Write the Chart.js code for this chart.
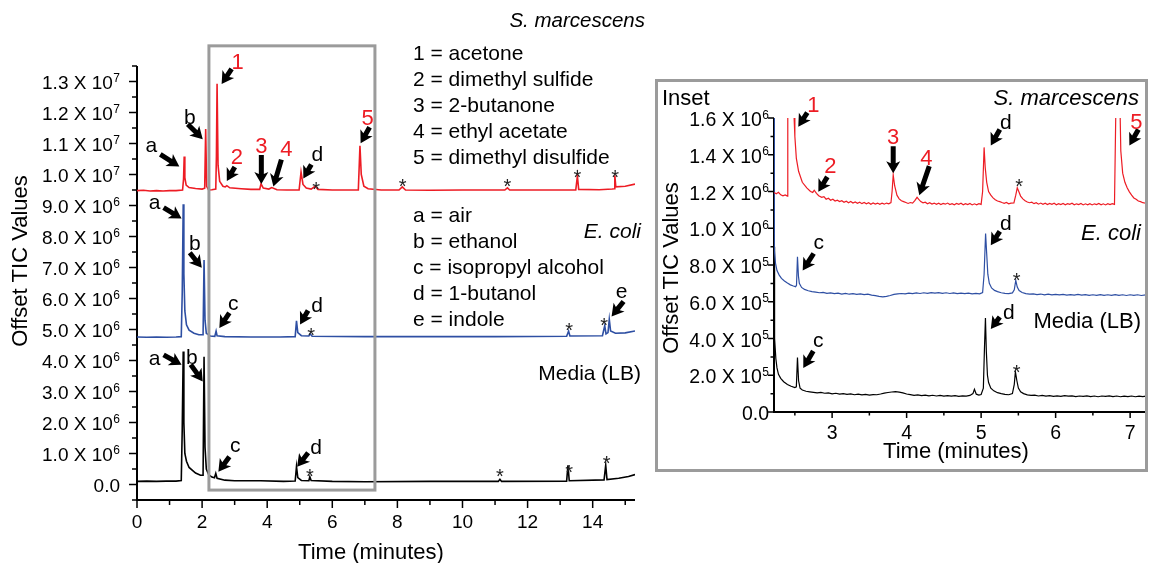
<!DOCTYPE html>
<html>
<head>
<meta charset="utf-8">
<script src="https://cdn.jsdelivr.net/npm/chart.js@4.4.0/dist/chart.umd.min.js"></script>
<style>
body { margin:0; background:#fff; width:1149px; height:563px; overflow:hidden; position:relative; }
#wrapMain { position:absolute; left:0; top:0; width:650px; height:563px; }
#wrapInset { position:absolute; left:650px; top:0; width:499px; height:563px; }
</style>
</head>
<body>
<div id="wrapMain"><canvas id="mainChart"></canvas></div>
<div id="wrapInset"><canvas id="insetChart"></canvas></div>
<script>
// ---- data (time in minutes, TIC in millions) ----
var serratiaMain = [[0,9.48],[0.2,9.49],[0.4,9.47],[0.6,9.48],[0.8,9.47],[1.0,9.48],[1.2,9.48],[1.4,9.5],[1.43,9.85],[1.45,10.58],[1.47,9.9],[1.51,9.66],[1.6,9.58],[1.8,9.55],[2.0,9.53],[2.08,9.56],[2.11,11.47],[2.14,9.62],[2.2,9.5],[2.3,9.51],[2.42,9.53],[2.44,10.6],[2.46,12.93],[2.49,10.3],[2.54,9.78],[2.64,9.62],[2.71,9.6],[2.76,9.64],[2.85,9.57],[3.2,9.54],[3.5,9.52],[3.77,9.52],[3.81,9.7],[3.88,9.56],[4.05,9.53],[4.14,9.58],[4.3,9.51],[4.6,9.5],[4.98,9.5],[5.04,10.08],[5.1,9.68],[5.2,9.56],[5.35,9.53],[5.47,9.62],[5.56,9.52],[6.0,9.5],[6.5,9.5],[6.8,9.5],[6.85,10.93],[6.89,10.0],[6.97,9.62],[7.1,9.54],[7.5,9.5],[8.05,9.5],[8.15,9.6],[8.25,9.5],[9,9.49],[10,9.5],[11.3,9.5],[11.38,9.57],[11.45,9.5],[12.5,9.5],[13.48,9.5],[13.53,9.95],[13.57,9.52],[14.2,9.51],[14.6,9.53],[14.66,9.54],[14.68,9.97],[14.71,9.6],[15.0,9.62],[15.3,9.69]];
var ecoliMain = [[0,4.76],[0.3,4.75],[0.6,4.76],[0.9,4.75],[1.2,4.76],[1.36,4.77],[1.39,6.2],[1.42,9.04],[1.44,6.8],[1.47,5.6],[1.52,5.15],[1.6,4.98],[1.75,4.88],[1.9,4.83],[2.03,4.83],[2.06,7.24],[2.09,5.3],[2.13,4.88],[2.25,4.79],[2.39,4.78],[2.43,4.95],[2.46,4.8],[2.7,4.77],[3.5,4.76],[4.4,4.76],[4.86,4.77],[4.9,5.28],[4.94,4.9],[5.05,4.8],[5.28,4.79],[5.32,4.86],[5.38,4.78],[7,4.77],[9,4.77],[11,4.77],[13.2,4.78],[13.26,4.95],[13.3,4.79],[14.3,4.8],[14.37,5.12],[14.41,4.86],[14.47,4.9],[14.51,5.33],[14.55,4.95],[14.7,4.88],[15.0,4.89],[15.3,4.95]];
var mediaMain = [[0,0.1],[0.3,0.11],[0.6,0.1],[0.9,0.11],[1.2,0.11],[1.36,0.13],[1.39,1.8],[1.42,4.29],[1.44,2.0],[1.47,1.0],[1.52,0.75],[1.6,0.55],[1.8,0.37],[1.95,0.3],[2.03,0.3],[2.06,4.12],[2.09,1.2],[2.13,0.5],[2.2,0.32],[2.3,0.24],[2.38,0.22],[2.42,0.36],[2.46,0.2],[2.7,0.14],[3.0,0.12],[3.8,0.12],[4.5,0.1],[4.86,0.11],[4.9,0.58],[4.94,0.22],[5.05,0.13],[5.28,0.12],[5.31,0.25],[5.35,0.13],[6,0.1],[7,0.09],[9,0.1],[11.1,0.1],[11.15,0.17],[11.2,0.1],[13.2,0.11],[13.24,0.62],[13.28,0.12],[14.35,0.15],[14.4,0.62],[14.44,0.16],[14.8,0.2],[15.1,0.26],[15.3,0.32]];

var serratiaInset = [[2.22,1.195],[2.25,1.188],[2.28,1.196],[2.31,1.182],[2.34,1.176],[2.37,1.181],[2.4,1.175],[2.405,2.2],[2.445,9.0],[2.485,2.2],[2.49,1.6],[2.5,1.5],[2.52,1.38],[2.55,1.31],[2.6,1.25],[2.66,1.22],[2.71,1.2],[2.74,1.195],[2.76,1.207],[2.79,1.19],[2.82,1.177],[2.86,1.168],[2.89,1.172],[2.92,1.158],[2.95,1.163],[2.98,1.152],[3.01,1.158],[3.04,1.148],[3.07,1.153],[3.1,1.145],[3.13,1.15],[3.16,1.141],[3.19,1.147],[3.22,1.139],[3.25,1.146],[3.28,1.137],[3.31,1.143],[3.34,1.136],[3.37,1.142],[3.4,1.134],[3.43,1.14],[3.46,1.133],[3.49,1.139],[3.52,1.131],[3.55,1.138],[3.58,1.132],[3.61,1.137],[3.64,1.13],[3.67,1.136],[3.7,1.131],[3.73,1.137],[3.76,1.133],[3.79,1.14],[3.805,1.2],[3.82,1.29],[3.84,1.23],[3.87,1.18],[3.9,1.16],[3.93,1.15],[3.96,1.145],[3.99,1.14],[4.02,1.135],[4.05,1.14],[4.08,1.137],[4.11,1.15],[4.14,1.168],[4.16,1.158],[4.19,1.145],[4.22,1.138],[4.25,1.142],[4.28,1.133],[4.31,1.139],[4.34,1.132],[4.37,1.137],[4.4,1.13],[4.43,1.136],[4.46,1.129],[4.49,1.135],[4.52,1.131],[4.55,1.137],[4.58,1.129],[4.61,1.134],[4.64,1.128],[4.67,1.135],[4.7,1.13],[4.73,1.136],[4.76,1.128],[4.79,1.134],[4.82,1.129],[4.85,1.135],[4.88,1.127],[4.91,1.133],[4.94,1.128],[4.97,1.134],[5.0,1.13],[5.02,1.2],[5.04,1.44],[5.055,1.33],[5.075,1.25],[5.1,1.2],[5.13,1.18],[5.16,1.165],[5.19,1.155],[5.22,1.148],[5.25,1.145],[5.28,1.14],[5.31,1.136],[5.34,1.14],[5.37,1.133],[5.4,1.137],[5.44,1.138],[5.465,1.18],[5.485,1.22],[5.5,1.205],[5.53,1.175],[5.56,1.16],[5.59,1.15],[5.62,1.143],[5.65,1.139],[5.68,1.142],[5.71,1.134],[5.74,1.139],[5.77,1.131],[5.8,1.137],[5.83,1.13],[5.86,1.136],[5.89,1.129],[5.92,1.135],[5.95,1.13],[5.98,1.136],[6.01,1.128],[6.04,1.134],[6.07,1.129],[6.1,1.135],[6.13,1.128],[6.16,1.134],[6.19,1.13],[6.22,1.136],[6.25,1.128],[6.28,1.133],[6.31,1.129],[6.34,1.135],[6.37,1.127],[6.4,1.133],[6.43,1.128],[6.46,1.134],[6.49,1.127],[6.52,1.133],[6.55,1.129],[6.58,1.135],[6.61,1.128],[6.64,1.133],[6.67,1.127],[6.7,1.134],[6.73,1.129],[6.76,1.134],[6.79,1.13],[6.81,1.7],[6.838,5.0],[6.862,1.7],[6.875,1.42],[6.9,1.3],[6.93,1.25],[6.96,1.22],[6.99,1.198],[7.02,1.18],[7.05,1.165],[7.08,1.158],[7.11,1.148],[7.14,1.145],[7.17,1.139],[7.21,1.136]];
var ecoliInset = [[2.22,1.7],[2.222,1.05],[2.228,0.88],[2.24,0.81],[2.26,0.77],[2.29,0.745],[2.32,0.727],[2.36,0.713],[2.4,0.702],[2.44,0.692],[2.48,0.686],[2.51,0.682],[2.522,0.69],[2.535,0.845],[2.548,0.74],[2.56,0.7],[2.59,0.678],[2.63,0.667],[2.68,0.66],[2.73,0.655],[2.78,0.652],[2.83,0.649],[2.88,0.651],[2.93,0.646],[2.98,0.648],[3.03,0.644],[3.08,0.647],[3.13,0.642],[3.18,0.645],[3.23,0.641],[3.28,0.644],[3.33,0.64],[3.38,0.643],[3.43,0.639],[3.48,0.641],[3.53,0.636],[3.58,0.633],[3.63,0.629],[3.68,0.627],[3.73,0.629],[3.78,0.634],[3.83,0.64],[3.88,0.643],[3.93,0.645],[3.98,0.643],[4.03,0.647],[4.08,0.644],[4.13,0.648],[4.18,0.645],[4.23,0.649],[4.28,0.646],[4.33,0.65],[4.38,0.647],[4.43,0.65],[4.48,0.646],[4.53,0.649],[4.58,0.645],[4.63,0.648],[4.68,0.644],[4.73,0.647],[4.78,0.644],[4.83,0.647],[4.88,0.643],[4.93,0.646],[4.98,0.643],[5.02,0.65],[5.04,0.75],[5.06,0.971],[5.075,0.86],[5.09,0.75],[5.11,0.7],[5.14,0.675],[5.18,0.662],[5.22,0.655],[5.27,0.649],[5.32,0.646],[5.37,0.644],[5.42,0.648],[5.445,0.665],[5.465,0.716],[5.485,0.68],[5.51,0.661],[5.55,0.65],[5.6,0.644],[5.65,0.641],[5.7,0.643],[5.75,0.639],[5.8,0.642],[5.85,0.638],[5.9,0.641],[5.95,0.637],[6.0,0.64],[6.05,0.637],[6.1,0.64],[6.15,0.636],[6.2,0.639],[6.25,0.636],[6.3,0.64],[6.35,0.636],[6.4,0.639],[6.45,0.635],[6.5,0.638],[6.55,0.635],[6.6,0.639],[6.65,0.635],[6.7,0.638],[6.75,0.635],[6.8,0.639],[6.85,0.635],[6.9,0.638],[6.95,0.634],[7.0,0.638],[7.05,0.635],[7.1,0.638],[7.15,0.634],[7.21,0.637]];
var mediaInset = [[2.22,0.9],[2.224,0.6],[2.232,0.4],[2.245,0.29],[2.26,0.24],[2.28,0.205],[2.31,0.183],[2.35,0.165],[2.4,0.15],[2.45,0.14],[2.5,0.133],[2.52,0.137],[2.535,0.297],[2.55,0.17],[2.57,0.13],[2.6,0.12],[2.65,0.113],[2.7,0.11],[2.75,0.107],[2.8,0.104],[2.85,0.107],[2.9,0.102],[2.95,0.104],[3.0,0.099],[3.05,0.102],[3.1,0.097],[3.15,0.1],[3.2,0.096],[3.25,0.099],[3.3,0.094],[3.35,0.097],[3.4,0.093],[3.45,0.096],[3.5,0.092],[3.55,0.095],[3.6,0.094],[3.65,0.098],[3.7,0.103],[3.75,0.106],[3.8,0.109],[3.85,0.111],[3.9,0.108],[3.95,0.104],[4.0,0.098],[4.05,0.095],[4.1,0.091],[4.15,0.093],[4.2,0.089],[4.25,0.092],[4.3,0.088],[4.35,0.091],[4.4,0.087],[4.45,0.09],[4.5,0.086],[4.55,0.089],[4.6,0.086],[4.65,0.089],[4.7,0.085],[4.75,0.088],[4.8,0.086],[4.85,0.09],[4.89,0.1],[4.91,0.124],[4.935,0.097],[4.97,0.092],[5.0,0.095],[5.03,0.13],[5.045,0.35],[5.058,0.512],[5.07,0.33],[5.085,0.2],[5.1,0.16],[5.13,0.13],[5.17,0.115],[5.22,0.105],[5.27,0.1],[5.32,0.096],[5.37,0.094],[5.42,0.1],[5.445,0.15],[5.46,0.22],[5.48,0.17],[5.5,0.13],[5.53,0.11],[5.57,0.1],[5.62,0.093],[5.67,0.09],[5.72,0.092],[5.77,0.087],[5.82,0.09],[5.87,0.086],[5.92,0.089],[5.97,0.085],[6.02,0.088],[6.07,0.085],[6.12,0.089],[6.17,0.086],[6.22,0.088],[6.27,0.084],[6.32,0.087],[6.37,0.085],[6.42,0.088],[6.47,0.084],[6.52,0.087],[6.57,0.083],[6.62,0.087],[6.67,0.085],[6.72,0.088],[6.77,0.084],[6.82,0.087],[6.87,0.083],[6.92,0.086],[6.97,0.084],[7.02,0.087],[7.07,0.083],[7.12,0.086],[7.17,0.084],[7.21,0.086]];

// ticks
var mainXTicks = [0, 2, 4, 6, 8, 10, 12, 14];
var mainXMinor = [1, 3, 5, 7, 9, 11, 13, 15];
var mainYTicks = [0, 1, 2, 3, 4, 5, 6, 7, 8, 9, 10, 11, 12, 13];
var mainYLabels = ['0.0', '1.0 X 10^6', '2.0 X 10^6', '3.0 X 10^6', '4.0 X 10^6', '5.0 X 10^6', '6.0 X 10^6', '7.0 X 10^6', '8.0 X 10^6', '9.0 X 10^6', '1.0 X 10^7', '1.1 X 10^7', '1.2 X 10^7', '1.3 X 10^7'];
var mainYMinor = [-0.5, 0.5, 1.5, 2.5, 3.5, 4.5, 5.5, 6.5, 7.5, 8.5, 9.5, 10.5, 11.5, 12.5, 13.5];
var insetXTicks = [3, 4, 5, 6, 7];
var insetXMinor = [2.5, 3.5, 4.5, 5.5, 6.5];
var insetYTicks = [0, 0.2, 0.4, 0.6, 0.8, 1.0, 1.2, 1.4, 1.6];
var insetYLabels = ['0.0', '2.0 X 10^5', '4.0 X 10^5', '6.0 X 10^5', '8.0 X 10^5', '1.0 X 10^6', '1.2 X 10^6', '1.4 X 10^6', '1.6 X 10^6'];
var insetYMinor = [0.1, 0.3, 0.5, 0.7, 0.9, 1.1, 1.3, 1.5];

var compoundKey = ['1 = acetone', '2 = dimethyl sulfide', '3 = 2-butanone', '4 = ethyl acetate', '5 = dimethyl disulfide'];
var commonKey = ['a = air', 'b = ethanol', 'c = isopropyl alcohol', 'd = 1-butanol', 'e = indole'];

var RED = '#ed1c24', BLUE = '#2e4fa3', BLACK = '#000000', GRAY = '#9b9b9b';
var FONT = "'Liberation Sans', Arial, Helvetica, sans-serif";

// peak labels: tip at data (x,y); tail and label offsets in px
var mainNotes = [
  {x:1.30, y:10.26, tx:-19, ty:-12, lx:-28, ly:-20, t:'a', c:BLACK},
  {x:2.02, y:11.14, tx:-15, ty:-15, lx:-13, ly:-23, t:'b', c:BLACK},
  {x:2.60, y:12.92, tx:10, ty:-15, lx:16, ly:-23, t:'1', c:RED},
  {x:2.76, y:9.79, tx:8, ty:-14, lx:10, ly:-25, t:'2', c:RED},
  {x:3.82, y:9.69, tx:0, ty:-29, lx:0, ly:-39, t:'3', c:RED},
  {x:4.19, y:9.61, tx:8, ty:-27, lx:13, ly:-39, t:'4', c:RED},
  {x:5.11, y:9.87, tx:8, ty:-14, lx:14, ly:-25, t:'d', c:BLACK},
  {x:6.87, y:11.01, tx:9, ty:-16, lx:7, ly:-26, t:'5', c:RED},
  {x:1.37, y:8.58, tx:-18, ty:-11, lx:-27, ly:-15, t:'a', c:BLACK},
  {x:1.99, y:6.99, tx:-12, ty:-15, lx:-7, ly:-25, t:'b', c:BLACK},
  {x:2.53, y:5.05, tx:10, ty:-15, lx:14, ly:-23, t:'c', c:BLACK},
  {x:5.01, y:5.16, tx:8, ty:-14, lx:17, ly:-20, t:'d', c:BLACK},
  {x:14.58, y:5.42, tx:12, ty:-15, lx:10, ly:-24, t:'e', c:BLACK},
  {x:1.37, y:3.86, tx:-18, ty:-10, lx:-27, ly:-5, t:'a', c:BLACK},
  {x:2.02, y:3.32, tx:-12, ty:-17, lx:-11, ly:-25, t:'b', c:BLACK},
  {x:2.50, y:0.41, tx:11, ty:-15, lx:17, ly:-25, t:'c', c:BLACK},
  {x:4.92, y:0.57, tx:11, ty:-14, lx:19, ly:-20, t:'d', c:BLACK}
];
var mainStars = [[5.50,9.69],[8.16,9.79],[11.38,9.76],[13.53,10.06],[14.69,10.08],[5.35,4.96],[13.28,5.12],[14.35,5.29],[5.31,0.41],[11.15,0.41],[13.28,0.55],[14.43,0.84]];

var insetNotes = [
  {x:2.546, y:1.553, tx:9, ty:-14, lx:15, ly:-23, t:'1', c:RED},
  {x:2.815, y:1.198, tx:9, ty:-15, lx:12, ly:-27, t:'2', c:RED},
  {x:3.82, y:1.299, tx:0, ty:-27, lx:0, ly:-37, t:'3', c:RED},
  {x:4.17, y:1.18, tx:10, ty:-29, lx:7, ly:-38, t:'4', c:RED},
  {x:5.13, y:1.45, tx:9, ty:-16, lx:15, ly:-24, t:'d', c:BLACK},
  {x:6.99, y:1.45, tx:9, ty:-16, lx:7, ly:-24, t:'5', c:RED},
  {x:2.605, y:0.770, tx:11, ty:-17, lx:16, ly:-27, t:'c', c:BLACK},
  {x:5.13, y:0.907, tx:9, ty:-14, lx:15, ly:-23, t:'d', c:BLACK},
  {x:2.613, y:0.239, tx:10, ty:-17, lx:15, ly:-27, t:'c', c:BLACK},
  {x:5.13, y:0.452, tx:9, ty:-12, lx:18, ly:-18, t:'d', c:BLACK}
];
var insetStars = [[5.51,1.257],[5.478,0.743],[5.478,0.242]];

// window shown in the inset (minutes, millions)
var insetWindow = {x0:2.21, x1:7.31, y0:-0.18, y1:14.15};

function pts(arr) {
  return arr.map(function(p) { return {x: p[0], y: p[1]}; });
}

// draw text with its visual centre at cy
function txt(ctx, s, x, cy, size, align, color, italic) {
  ctx.font = (italic ? 'italic ' : '') + size + 'px ' + FONT;
  ctx.fillStyle = color || '#000';
  ctx.textAlign = align || 'left';
  ctx.textBaseline = 'alphabetic';
  var k = /^[ace]$/.test(s) ? 0.26 : 0.36;
  ctx.fillText(s, x, cy + size * k);
}

function sciLabel(ctx, s, xRight, cy, size) {
  var parts = s.split('^');
  var base = cy + size * 0.36;
  var x = xRight;
  ctx.fillStyle = '#000';
  ctx.textAlign = 'right';
  ctx.textBaseline = 'alphabetic';
  if (parts.length > 1) {
    var sup = Math.round(size * 0.64);
    ctx.font = sup + 'px ' + FONT;
    ctx.fillText(parts[1], x, base - size * 0.38);
    x -= ctx.measureText(parts[1]).width + 0.5;
  }
  ctx.font = size + 'px ' + FONT;
  ctx.fillText(parts[0], x, base);
}

function arrow(ctx, x0, y0, x1, y1) {
  var dx = x1 - x0, dy = y1 - y0, len = Math.sqrt(dx * dx + dy * dy);
  var ux = dx / len, uy = dy / len, px = -uy, py = ux;
  var head = 12, hw = 7, sw = 2.5;
  var bx = x1 - ux * head, by = y1 - uy * head;
  ctx.beginPath();
  ctx.moveTo(x0 + px * sw, y0 + py * sw);
  ctx.lineTo(bx + ux * 2 + px * sw, by + uy * 2 + py * sw);
  ctx.lineTo(bx + px * hw, by + py * hw);
  ctx.lineTo(x1, y1);
  ctx.lineTo(bx - px * hw, by - py * hw);
  ctx.lineTo(bx + ux * 2 - px * sw, by + uy * 2 - py * sw);
  ctx.lineTo(x0 - px * sw, y0 - py * sw);
  ctx.closePath();
  ctx.fillStyle = '#000';
  ctx.fill();
}

function drawNotes(ctx, xs, ys, notes, stars, numSize, letSize) {
  notes.forEach(function(n) {
    var px = xs.getPixelForValue(n.x), py = ys.getPixelForValue(n.y);
    arrow(ctx, px + n.tx, py + n.ty, px, py);
    txt(ctx, n.t, px + n.lx, py + n.ly, n.c === RED ? numSize : letSize, 'center', n.c);
  });
  stars.forEach(function(s) {
    var px = xs.getPixelForValue(s[0]), py = ys.getPixelForValue(s[1]);
    ctx.font = '20px ' + FONT;
    ctx.fillStyle = '#222';
    ctx.textAlign = 'center';
    ctx.textBaseline = 'alphabetic';
    ctx.fillText('*', px, py + 11.5);
  });
}

function drawAxes(ctx, area, xs, ys, o) {
  ctx.strokeStyle = '#000';
  ctx.lineWidth = 2;
  ctx.beginPath();
  ctx.moveTo(area.left, area.top);
  ctx.lineTo(area.left, area.bottom);
  ctx.lineTo(area.right, area.bottom);
  ctx.stroke();
  ctx.lineWidth = 1.5;
  ctx.beginPath();
  o.xMajor.forEach(function(v) { var p = xs.getPixelForValue(v); ctx.moveTo(p, area.bottom); ctx.lineTo(p, area.bottom + o.major); });
  o.xMinor.forEach(function(v) { var p = xs.getPixelForValue(v); ctx.moveTo(p, area.bottom); ctx.lineTo(p, area.bottom + o.minor); });
  o.yMajor.forEach(function(v) { var p = ys.getPixelForValue(v); ctx.moveTo(area.left, p); ctx.lineTo(area.left - o.major, p); });
  o.yMinor.forEach(function(v) { var p = ys.getPixelForValue(v); ctx.moveTo(area.left, p); ctx.lineTo(area.left - o.minor, p); });
  ctx.stroke();
  o.xMajor.forEach(function(v) {
    txt(ctx, String(v), xs.getPixelForValue(v), area.bottom + o.xLabelDy, o.tickSize, 'center');
  });
  o.yMajor.forEach(function(v, i) {
    sciLabel(ctx, o.yLabels[i], o.yLabelRight, ys.getPixelForValue(v) + 1, o.tickSize);
  });
  txt(ctx, 'Time (minutes)', (area.left + area.right) / 2 + o.xTitleDx, area.bottom + o.xTitleDy, 22, 'center');
  ctx.save();
  ctx.translate(o.yTitleX, o.yTitleY);
  ctx.rotate(-Math.PI / 2);
  txt(ctx, 'Offset TIC Values', 0, 0, 22, 'center');
  ctx.restore();
}

var mainAxes = {
  xMajor: mainXTicks, xMinor: mainXMinor, yMajor: mainYTicks, yMinor: mainYMinor,
  yLabels: mainYLabels, major: 8, minor: 5, tickSize: 19, xLabelDy: 21, yLabelRight: 120,
  xTitleDx: -15, xTitleDy: 51, yTitleX: 19, yTitleY: 261
};
var insetAxes = {
  xMajor: insetXTicks, xMinor: insetXMinor, yMajor: insetYTicks, yMinor: insetYMinor,
  yLabels: insetYLabels, major: 6, minor: 3.5, tickSize: 19.5, xLabelDy: 20, yLabelRight: 119,
  xTitleDx: -4, xTitleDy: 38, yTitleX: 20, yTitleY: 268
};

var mainDecor = {
  id: 'mainDecor',
  beforeDatasetsDraw: function(chart) {
    var ctx = chart.ctx;
    ctx.save();
    drawAxes(ctx, chart.chartArea, chart.scales.x, chart.scales.y, mainAxes);
    ctx.restore();
  },
  afterDatasetsDraw: function(chart) {
    var ctx = chart.ctx, xs = chart.scales.x, ys = chart.scales.y;
    ctx.save();
    // zoom window
    ctx.strokeStyle = GRAY;
    ctx.lineWidth = 3;
    var bx0 = xs.getPixelForValue(insetWindow.x0), bx1 = xs.getPixelForValue(insetWindow.x1);
    var by0 = ys.getPixelForValue(insetWindow.y1), by1 = ys.getPixelForValue(insetWindow.y0);
    ctx.strokeRect(bx0, by0, bx1 - bx0, by1 - by0);
    drawNotes(ctx, xs, ys, mainNotes, mainStars, 22, 21);
    // trace names and keys
    txt(ctx, 'S. marcescens', 645, 20, 20.5, 'right', '#000', true);
    txt(ctx, 'E. coli', 641, 230, 21, 'right', '#000', true);
    txt(ctx, 'Media (LB)', 641, 372, 21, 'right');
    compoundKey.forEach(function(s, i) { txt(ctx, s, 413, 52 + i * 26.2, 21, 'left'); });
    commonKey.forEach(function(s, i) { txt(ctx, s, 413, 214 + i * 26.2, 21, 'left'); });
    ctx.restore();
  }
};

var insetDecor = {
  id: 'insetDecor',
  beforeDatasetsDraw: function(chart) {
    var ctx = chart.ctx;
    ctx.save();
    drawAxes(ctx, chart.chartArea, chart.scales.x, chart.scales.y, insetAxes);
    ctx.restore();
  },
  afterDatasetsDraw: function(chart) {
    var ctx = chart.ctx, xs = chart.scales.x, ys = chart.scales.y;
    ctx.save();
    ctx.strokeStyle = GRAY;
    ctx.lineWidth = 3;
    ctx.strokeRect(6.5, 80.5, 490, 390);
    drawNotes(ctx, xs, ys, insetNotes, insetStars, 22, 21);
    txt(ctx, 'Inset', 12, 97, 22, 'left');
    txt(ctx, 'S. marcescens', 489, 97, 22, 'right', '#000', true);
    txt(ctx, 'E. coli', 491, 232, 22, 'right', '#000', true);
    txt(ctx, 'Media (LB)', 491, 320, 22, 'right');
    ctx.restore();
  }
};

function lineSet(label, arr, color, width) {
  return { label: label, data: pts(arr), borderColor: color, borderWidth: width, pointRadius: 0, tension: 0, fill: false };
}

function baseOptions(xmin, xmax, ymin, ymax, pad, xh, yw) {
  return {
    responsive: true, maintainAspectRatio: false, animation: false,
    layout: { padding: pad },
    plugins: { legend: { display: false }, tooltip: { enabled: false } },
    scales: {
      x: { type: 'linear', min: xmin, max: xmax, grid: { display: false }, border: { display: false }, ticks: { display: false },
           afterFit: function(s) { s.height = xh; } },
      y: { type: 'linear', min: ymin, max: ymax, grid: { display: false }, border: { display: false }, ticks: { display: false },
           afterFit: function(s) { s.width = yw; } }
    }
  };
}

new Chart(document.getElementById('mainChart'), {
  type: 'line',
  data: { datasets: [
    lineSet('S. marcescens', serratiaMain, RED, 1.6),
    lineSet('E. coli', ecoliMain, BLUE, 1.6),
    lineSet('Media (LB)', mediaMain, BLACK, 1.6)
  ] },
  options: baseOptions(0, 15.3, -0.5, 13.5, { top: 66, right: 15, bottom: 0, left: 0 }, 63, 137),
  plugins: [mainDecor]
});

new Chart(document.getElementById('insetChart'), {
  type: 'line',
  data: { datasets: [
    lineSet('S. marcescens', serratiaInset, RED, 1.2),
    lineSet('E. coli', ecoliInset, BLUE, 1.2),
    lineSet('Media (LB)', mediaInset, BLACK, 1.2)
  ] },
  options: baseOptions(2.22, 7.213, 0, 1.6, { top: 118, right: 3, bottom: 0, left: 0 }, 151, 124),
  plugins: [insetDecor]
});
</script>
</body>
</html>
